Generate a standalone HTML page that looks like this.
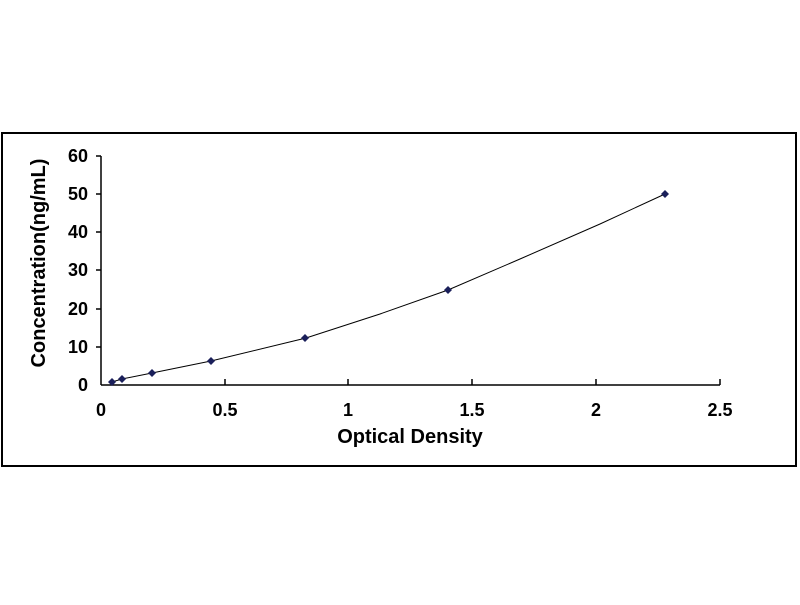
<!DOCTYPE html>
<html><head><style>body{margin:0;background:#fff}</style></head><body>
<svg width="800" height="600" xmlns="http://www.w3.org/2000/svg" font-family="Liberation Sans, sans-serif" font-weight="bold">
<rect x="2" y="133" width="794" height="333" fill="none" stroke="#000" stroke-width="2"/>
<g stroke="#000" stroke-width="1.5">
<line x1="101" y1="156" x2="101" y2="385"/>
<line x1="101" y1="385" x2="720" y2="385"/>
<line x1="96" y1="156" x2="101" y2="156"/><line x1="96" y1="194" x2="101" y2="194"/><line x1="96" y1="232" x2="101" y2="232"/><line x1="96" y1="270" x2="101" y2="270"/><line x1="96" y1="309" x2="101" y2="309"/><line x1="96" y1="347" x2="101" y2="347"/>
<line x1="225" y1="379" x2="225" y2="385"/><line x1="348" y1="379" x2="348" y2="385"/><line x1="472" y1="379" x2="472" y2="385"/><line x1="596" y1="379" x2="596" y2="385"/><line x1="720" y1="379" x2="720" y2="385"/>
</g>
<g font-size="18" text-anchor="end">
<text x="88" y="162">60</text><text x="88" y="200">50</text><text x="88" y="238">40</text><text x="88" y="276">30</text><text x="88" y="315">20</text><text x="88" y="353">10</text><text x="88" y="391">0</text>
</g>
<g font-size="18" text-anchor="middle">
<text x="101" y="416">0</text><text x="225" y="416">0.5</text><text x="348" y="416">1</text><text x="472" y="416">1.5</text><text x="596" y="416">2</text><text x="720" y="416">2.5</text>
</g>
<text x="410" y="443" font-size="20" text-anchor="middle">Optical Density</text>
<text transform="translate(45,263) rotate(-90)" font-size="20" text-anchor="middle">Concentration(ng/mL)</text>
<polyline fill="none" stroke="#000" stroke-width="1" points="112,382 122,379 152,373 211,361 306,338 380,314 448,290 520,259 600,224 665,194"/>
<g fill="#1a1f5a">
<path d="M112,378 l4,4 l-4,4 l-4,-4z"/><path d="M122,375 l4,4 l-4,4 l-4,-4z"/><path d="M152,369 l4,4 l-4,4 l-4,-4z"/><path d="M211,357 l4,4 l-4,4 l-4,-4z"/><path d="M305,334 l4,4 l-4,4 l-4,-4z"/><path d="M448,286 l4,4 l-4,4 l-4,-4z"/><path d="M665,190 l4,4 l-4,4 l-4,-4z"/>
</g>
</svg>
</body></html>
